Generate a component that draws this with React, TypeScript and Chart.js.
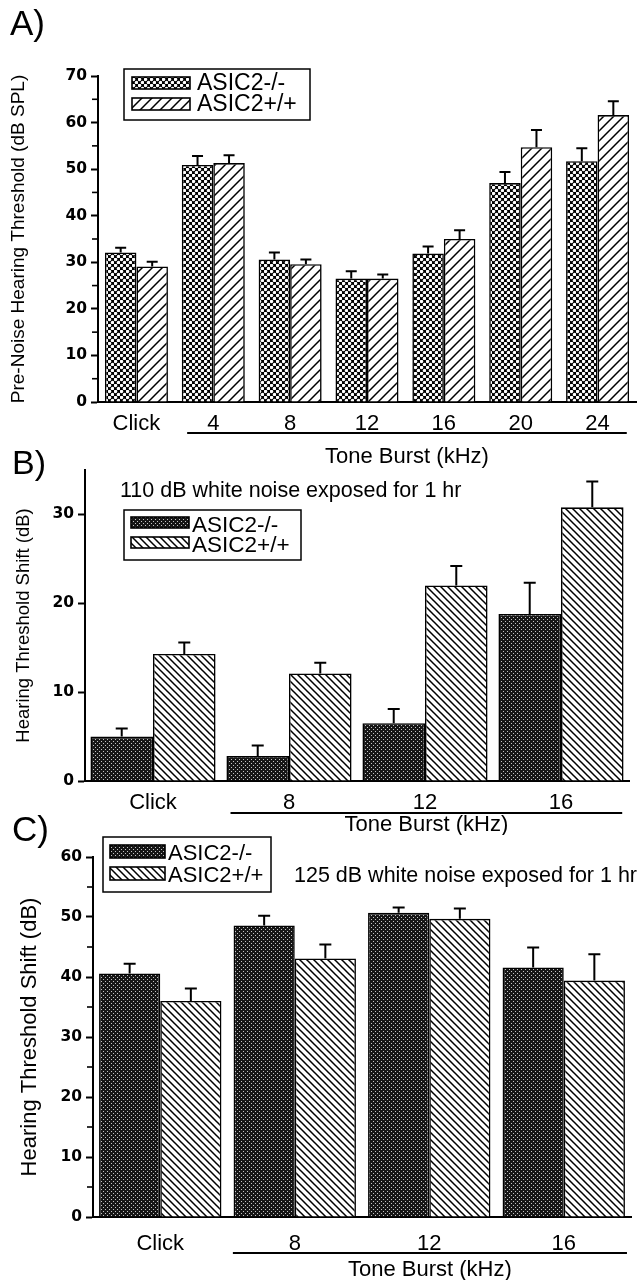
import React, { useEffect, useRef } from 'react';
import { Chart, registerables } from 'chart.js';

Chart.register(...registerables);

const FONT = "'Liberation Sans', Arial, Helvetica, sans-serif";
const TICK_FONT = "'DejaVu Sans', 'Liberation Sans', sans-serif";

// ---- data ----
const seriesLabels = ['ASIC2-/-', 'ASIC2+/+'];

const categoriesA = ['Click', '4', '8', '12', '16', '20', '24'];
const knockoutA = [32.1, 50.9, 30.6, 26.5, 31.9, 47.0, 51.7];
const knockoutErrA = [1.0, 1.9, 1.5, 1.6, 1.5, 2.4, 2.8];
const wildA = [29.1, 51.3, 29.6, 26.5, 35.0, 54.7, 61.6];
const wildErrA = [1.0, 1.7, 1.0, 0.9, 1.9, 3.7, 3.0];

const categoriesB = ['Click', '8', '12', '16'];
const knockoutB = [5.0, 2.8, 6.5, 18.8];
const knockoutErrB = [0.9, 1.2, 1.6, 3.5];
const wildB = [14.3, 12.1, 22.0, 30.8];
const wildErrB = [1.3, 1.2, 2.2, 2.9];

const categoriesC = ['Click', '8', '12', '16'];
const knockoutC = [40.6, 48.6, 50.7, 41.6];
const knockoutErrC = [1.6, 1.6, 0.9, 3.3];
const wildC = [36.0, 43.1, 49.7, 39.4];
const wildErrC = [2.1, 2.3, 1.7, 4.4];

const minorTicksA = [5, 15, 25, 35, 45, 55, 65];
const minorTicksC = [5, 15, 25, 35, 45, 55];

type PatternKind = 'mesh' | 'slash' | 'stipple' | 'back';

function makePattern(target: CanvasRenderingContext2D, kind: PatternKind): CanvasPattern | string {
  const c = document.createElement('canvas');
  const ctx = c.getContext('2d');
  if (!ctx) return '#000';
  if (kind === 'mesh') {
    c.width = 6; c.height = 6;
    ctx.fillStyle = '#000'; ctx.fillRect(0, 0, 6, 6);
    ctx.fillStyle = '#fff';
    [[1.5, 1.5], [4.5, 4.5]].forEach(([x, y]) => {
      ctx.beginPath(); ctx.arc(x, y, 1.75, 0, Math.PI * 2); ctx.fill();
    });
  } else if (kind === 'stipple') {
    c.width = 4; c.height = 4;
    ctx.fillStyle = '#161616'; ctx.fillRect(0, 0, 4, 4);
    ctx.fillStyle = '#c4c4c4';
    ctx.fillRect(1, 1, 1, 1); ctx.fillRect(3, 3, 1, 1);
  } else {
    const s = kind === 'slash' ? 10 : 7;
    c.width = s; c.height = s;
    ctx.fillStyle = '#fff'; ctx.fillRect(0, 0, s, s);
    ctx.strokeStyle = '#000'; ctx.lineWidth = 1.5;
    ctx.beginPath();
    if (kind === 'slash') {
      ctx.moveTo(-1, s + 1); ctx.lineTo(s + 1, -1);
      ctx.moveTo(-1, 1); ctx.lineTo(1, -1);
      ctx.moveTo(s - 1, s + 1); ctx.lineTo(s + 1, s - 1);
    } else {
      ctx.moveTo(-1, -1); ctx.lineTo(s + 1, s + 1);
      ctx.moveTo(s - 1, -1); ctx.lineTo(s + 1, 1);
      ctx.moveTo(-1, s - 1); ctx.lineTo(1, s + 1);
    }
    ctx.stroke();
  }
  return target.createPattern(c, 'repeat') || '#000';
}

const decorPlugin = {
  id: 'decor',
  afterDatasetsDraw(chart: any, _args: any, o: any) {
    const ctx = chart.ctx;
    const ys = chart.scales.y;
    ctx.save();
    ctx.strokeStyle = '#000';
    ctx.lineWidth = 2;
    chart.data.datasets.forEach((ds: any, i: number) => {
      const meta = chart.getDatasetMeta(i);
      meta.data.forEach((el: any, j: number) => {
        const v = ds.data[j];
        const e = o.errors[i][j];
        const yTop = ys.getPixelForValue(v + e);
        ctx.beginPath();
        ctx.moveTo(el.x, el.y);
        ctx.lineTo(el.x, yTop);
        ctx.moveTo(el.x - o.capW / 2, yTop);
        ctx.lineTo(el.x + o.capW / 2, yTop);
        ctx.stroke();
      });
    });
    ctx.restore();
  },
  afterDraw(chart: any, _args: any, o: any) {
    const ctx = chart.ctx;
    const ys = chart.scales.y;
    const xs = chart.scales.x;
    const area = chart.chartArea;
    ctx.save();
    ctx.strokeStyle = '#000';
    ctx.fillStyle = '#000';
    // minor ticks
    ctx.lineWidth = 1.6;
    (o.minor || []).forEach((v: number) => {
      const y = ys.getPixelForValue(v);
      ctx.beginPath();
      ctx.moveTo(area.left - 6, y);
      ctx.lineTo(area.left, y);
      ctx.stroke();
    });
    // panel letter
    ctx.textAlign = 'left';
    ctx.textBaseline = 'alphabetic';
    ctx.font = `${o.letter.size}px ${FONT}`;
    ctx.fillText(o.letter.text, o.letter.x, o.letter.y);
    // subtitle
    if (o.subtitle) {
      ctx.font = `${o.subtitle.size}px ${FONT}`;
      ctx.fillText(o.subtitle.text, o.subtitle.x, o.subtitle.y);
    }
    // legend
    const L = o.legend;
    ctx.fillStyle = '#fff';
    ctx.fillRect(L.box[0], L.box[1], L.box[2], L.box[3]);
    ctx.lineWidth = 1.5;
    ctx.strokeRect(L.box[0], L.box[1], L.box[2], L.box[3]);
    chart.data.datasets.forEach((ds: any, i: number) => {
      ctx.fillStyle = ds.backgroundColor;
      ctx.fillRect(L.swX, L.swY[i], L.swW, L.swH);
      ctx.lineWidth = 1.6;
      ctx.strokeRect(L.swX, L.swY[i], L.swW, L.swH);
      ctx.fillStyle = '#000';
      ctx.font = `${L.size}px ${FONT}`;
      ctx.fillText(ds.label, L.textX, L.textY[i]);
    });
    // tone burst bracket
    const B = o.bracket;
    const w = xs.getPixelForValue(1) - xs.getPixelForValue(0);
    const x1 = xs.getPixelForValue(1) - B.leftFrac * w;
    const x2 = xs.getPixelForValue(chart.data.labels.length - 1) + B.rightFrac * w;
    ctx.lineWidth = 2;
    ctx.beginPath();
    ctx.moveTo(x1, B.y);
    ctx.lineTo(x2, B.y);
    ctx.stroke();
    ctx.font = `${B.size}px ${FONT}`;
    ctx.textAlign = 'center';
    ctx.fillText(B.label, (x1 + x2) / 2, B.labelY);
    ctx.restore();
  },
};

interface PanelSpec {
  top: number;
  height: number;
  categories: string[];
  values: number[][];
  errors: number[][];
  patterns: [PatternKind, PatternKind];
  yMax: number;
  yWidth: number;
  xHeight: number;
  padTop: number;
  padRight: number;
  catPct: number;
  yTitle: string;
  yTitleSize: number;
  yTitlePad: number;
  xLabelPad: number;
  minor: number[];
  capW: number;
  letter: any;
  subtitle?: any;
  legend: any;
  bracket: any;
}

const panels: PanelSpec[] = [
  {
    top: 0, height: 480,
    categories: categoriesA,
    values: [knockoutA, wildA],
    errors: [knockoutErrA, wildErrA],
    patterns: ['mesh', 'slash'],
    yMax: 70, yWidth: 98, xHeight: 78, padTop: 76, padRight: 3, catPct: 0.82,
    yTitle: 'Pre-Noise Hearing Threshold (dB SPL)', yTitleSize: 19, yTitlePad: 7,
    xLabelPad: 9, minor: minorTicksA, capW: 11,
    letter: { text: 'A)', x: 10, y: 35, size: 35 },
    legend: { box: [124, 69, 186, 51], swX: 132, swW: 58, swH: 12, swY: [77, 98], textX: 197, textY: [90, 111], size: 23 },
    bracket: { leftFrac: 0.34, rightFrac: 0.38, y: 433, label: 'Tone Burst (kHz)', labelY: 463, size: 22 },
  },
  {
    top: 440, height: 395,
    categories: categoriesB,
    values: [knockoutB, wildB],
    errors: [knockoutErrB, wildErrB],
    patterns: ['stipple', 'back'],
    yMax: 35, yWidth: 85, xHeight: 54, padTop: 30, padRight: 10, catPct: 0.92,
    yTitle: 'Hearing Threshold Shift (dB)', yTitleSize: 18.5, yTitlePad: 13,
    xLabelPad: 9, minor: [], capW: 12,
    letter: { text: 'B)', x: 12, y: 34, size: 34 },
    subtitle: { text: '110 dB white noise exposed for 1 hr', x: 120, y: 57, size: 21.5 },
    legend: { box: [124, 70, 177, 50], swX: 131, swW: 58, swH: 11, swY: [77, 97], textX: 192, textY: [92, 112], size: 22.5 },
    bracket: { leftFrac: 0.43, rightFrac: 0.45, y: 373, label: 'Tone Burst (kHz)', labelY: 391, size: 22 },
  },
  {
    top: 800, height: 480,
    categories: categoriesC,
    values: [knockoutC, wildC],
    errors: [knockoutErrC, wildErrC],
    patterns: ['stipple', 'back'],
    yMax: 60, yWidth: 93, xHeight: 63, padTop: 57, padRight: 8, catPct: 0.91,
    yTitle: 'Hearing Threshold Shift (dB)', yTitleSize: 22, yTitlePad: 17,
    xLabelPad: 14, minor: minorTicksC, capW: 12,
    letter: { text: 'C)', x: 12, y: 41, size: 35 },
    subtitle: { text: '125 dB white noise exposed for 1 hr', x: 294, y: 82, size: 21.5 },
    legend: { box: [103, 37, 168, 55], swX: 110, swW: 55, swH: 13, swY: [45, 67], textX: 168, textY: [60, 82], size: 22 },
    bracket: { leftFrac: 0.46, rightFrac: 0.47, y: 453, label: 'Tone Burst (kHz)', labelY: 476, size: 22 },
  },
];

function buildConfig(p: PanelSpec, ctx: CanvasRenderingContext2D): any {
  return {
    type: 'bar',
    data: {
      labels: p.categories,
      datasets: seriesLabels.map((label, i) => ({
        label,
        data: p.values[i],
        backgroundColor: makePattern(ctx, p.patterns[i]),
        borderColor: '#000',
        borderWidth: 1.6,
        categoryPercentage: p.catPct,
        barPercentage: 1,
      })),
    },
    options: {
      responsive: false,
      animation: false,
      devicePixelRatio: 1,
      events: [],
      layout: { padding: { top: p.padTop, right: p.padRight, left: 0, bottom: 0 } },
      plugins: {
        legend: { display: false },
        tooltip: { enabled: false },
        decor: {
          errors: p.errors,
          capW: p.capW,
          minor: p.minor,
          letter: p.letter,
          subtitle: p.subtitle,
          legend: p.legend,
          bracket: p.bracket,
        },
      },
      scales: {
        x: {
          type: 'category',
          offset: true,
          grid: { display: false, drawTicks: false },
          border: { display: true, color: '#000', width: 2 },
          ticks: {
            color: '#000',
            font: { family: FONT, size: 22 },
            padding: p.xLabelPad,
            maxRotation: 0,
            autoSkip: false,
          },
          afterFit: (s: any) => { s.height = p.xHeight; },
        },
        y: {
          min: 0,
          max: p.yMax,
          afterBuildTicks: (s: any) => { s.ticks = s.ticks.filter((t: any) => t.value % 10 === 0); },
          ticks: {
            stepSize: 10,
            color: '#000',
            font: { family: TICK_FONT, size: 15.5, weight: 'bold' },
            padding: 4,
          },
          grid: {
            display: true,
            drawOnChartArea: false,
            drawTicks: true,
            tickLength: 7,
            tickWidth: 2,
            tickColor: '#000',
          },
          border: { display: true, color: '#000', width: 2 },
          title: {
            display: true,
            text: p.yTitle,
            color: '#000',
            font: { family: FONT, size: p.yTitleSize },
            padding: { top: p.yTitlePad, bottom: 0 },
          },
          afterFit: (s: any) => { s.width = p.yWidth; },
        },
      },
    },
    plugins: [decorPlugin],
  };
}

function Panel({ spec }: { spec: PanelSpec }) {
  const ref = useRef<HTMLCanvasElement | null>(null);
  useEffect(() => {
    const canvas = ref.current;
    if (!canvas) return;
    const ctx = canvas.getContext('2d');
    if (!ctx) return;
    const chart = new Chart(canvas, buildConfig(spec, ctx));
    return () => chart.destroy();
  }, [spec]);
  return (
    <canvas
      ref={ref}
      width={639}
      height={spec.height}
      style={{ position: 'absolute', left: 0, top: spec.top, width: 639, height: spec.height }}
    />
  );
}

export default function App() {
  return (
    <div style={{ position: 'absolute', left: 0, top: 0, width: 639, height: 1280, background: '#fff', overflow: 'hidden' }}>
      {panels.map((p, i) => (
        <Panel key={i} spec={p} />
      ))}
    </div>
  );
}
